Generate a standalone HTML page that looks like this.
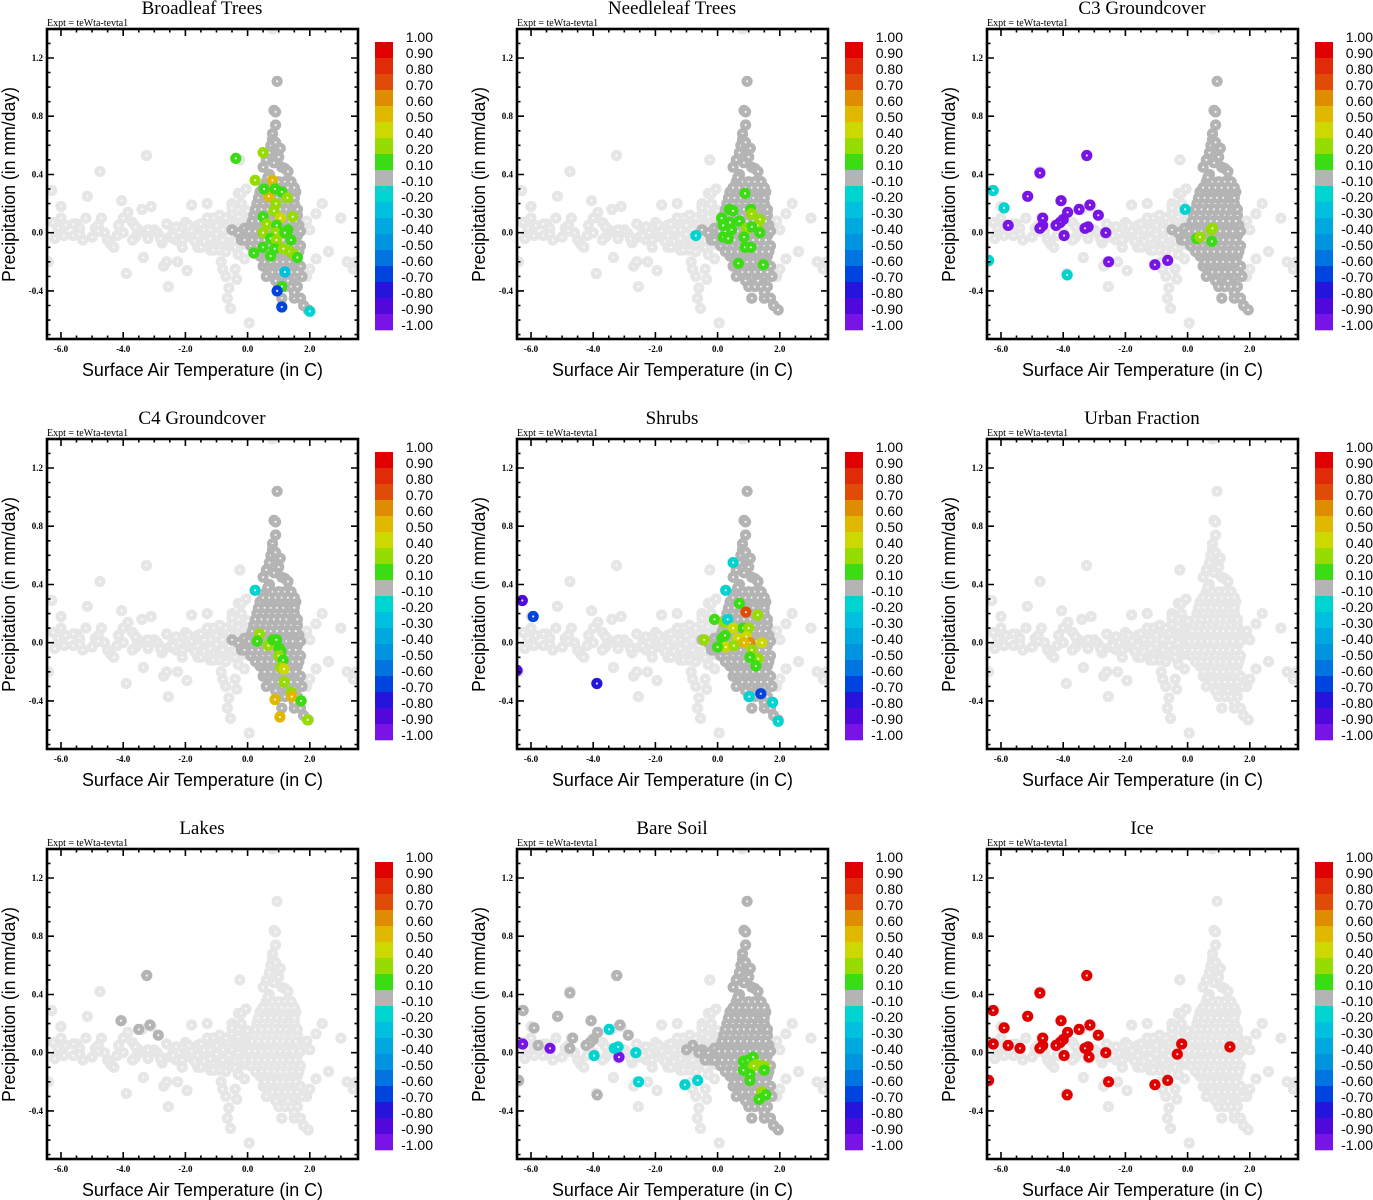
<!DOCTYPE html>
<html><head><meta charset="utf-8"><title>Land cover correlation scatter plots</title>
<style>
html,body{margin:0;padding:0;background:#fff;}
svg{display:block;}
.title{font-family:"Liberation Serif",serif;font-size:19px;text-anchor:middle;}
.expt{font-family:"Liberation Serif",serif;font-size:10px;}
.tick{font-family:"Liberation Serif",serif;font-size:9px;font-weight:bold;}
.axt{font-family:"Liberation Sans",sans-serif;font-size:18px;}
.cbl{font-family:"Liberation Sans",sans-serif;font-size:14px;text-anchor:end;}
</style></head>
<body>
<svg id="fig" width="1373" height="1200" viewBox="0 0 1373 1200" xmlns="http://www.w3.org/2000/svg"></svg>
<script>
// ---- data ----
const panelTitles = ["Broadleaf Trees","Needleleaf Trees","C3 Groundcover","C4 Groundcover","Shrubs","Urban Fraction","Lakes","Bare Soil","Ice"];
const coreDark = [true,true,true,true,true,false,false,true,false];
const xTicks = [-6,-4,-2,0,2];
const xTickLabels = ["-6.0","-4.0","-2.0","0.0","2.0"];
const yTicks = [-0.4,0,0.4,0.8,1.2];
const yTickLabels = ["-0.4","0.0","0.4","0.8","1.2"];
const cbEdges = [1.0,0.9,0.8,0.7,0.6,0.5,0.4,0.2,0.1,-0.1,-0.2,-0.3,-0.4,-0.5,-0.6,-0.7,-0.8,-0.9,-1.0];
const cbLabels = ["1.00","0.90","0.80","0.70","0.60","0.50","0.40","0.20","0.10","-0.10","-0.20","-0.30","-0.40","-0.50","-0.60","-0.70","-0.80","-0.90","-1.00"];
const cbColors = ["#e00000","#e02a08","#e04c08","#e08c00","#e0b800","#ccd800","#96dc00","#3cdc14","#b4b4b4","#00d4d0","#00c0e0","#00a8e0","#0094e0","#0074e0","#0044e0","#2414dc","#5008dc","#7814e6"];

const baseT = [-6.4,-6.3,-6.25,-6.2,-6.0,-6.0,-5.9,-5.85,-5.6,-5.5,-5.4,-5.3,-5.2,-5.15,-5.0,-4.9,-4.8,-4.75,-4.7,-4.6,-4.5,-4.4,-4.3,-4.15,-4.05,-4.0,-4.0,-3.9,-3.85,-3.7,-3.6,-3.5,-3.4,-3.35,-3.3,-3.25,-3.2,-3.1,-3.0,-2.9,-2.8,-2.75,-2.7,-2.6,-2.55,-2.5,-2.4,-2.3,-2.25,-2.2,-2.1,-2.0,-1.95,-1.9,-1.8,-1.75,-1.6,-1.5,-1.4,-1.3,-1.2,-1.1,-1.0,-0.9,-0.85,-0.8,-0.7,-0.65,-0.6,-0.55,-0.5,-0.4,-0.35,-0.3,-0.25,-0.2,-0.1,-0.05,0.05,0.8,-1.6,-1.3,-1.1,-0.9,-0.7,-0.6,-0.5,-0.4,-0.3,-0.2,-0.1,0.0,-0.7,-1.2,-0.9,-2.6,-3.7,-5.6,2.2,2.4,2.6,3.0,3.2,3.4,3.5,2.2,1.9,2.0,1.9,2.0,-1.0,-0.8,-0.6,-0.4,-0.2,-1.4,-1.7,-2.0,-2.4,-2.8,-3.2,-3.6,-4.2,-4.8,-5.4,-6.1,
-2.4,-2.2,-2.0,-1.8,-1.6,-1.4,-1.2,-1.0,-0.8,-0.6,-0.4,-0.2,-2.3,-2.1,-1.9,-1.7,-1.5,-1.3,-1.1,-0.9,-0.7,-0.5,-0.3,-0.1,-1.5,-1.3,-1.1,-0.9,-0.7,-0.5,-0.3,-1.4,-1.2,-1.0,-0.8,-0.6,-0.4,-0.2,-0.3,-0.1,-0.5,-0.7];
const baseP = [-0.2,0.29,0.07,-0.04,0.18,0.1,-0.02,0.05,-0.02,0.06,0.03,-0.05,0.1,0.25,-0.03,0.03,0.05,0.42,0.1,0.0,-0.05,-0.08,-0.1,0.05,0.22,0.1,0.0,-0.28,0.14,0.07,-0.03,0.02,0.16,-0.17,0.0,0.53,-0.04,0.18,0.02,0.0,-0.03,-0.07,-0.23,-0.2,-0.37,-0.03,0.02,-0.05,-0.2,0.0,-0.1,0.07,-0.26,0.03,0.19,-0.04,-0.1,0.0,0.05,0.2,-0.12,0.02,-0.03,0.0,-0.2,-0.25,-0.3,-0.45,-0.38,-0.52,0.2,-0.25,-0.32,0.27,0.5,0.27,0.1,0.3,-0.62,1.4,0.05,-0.05,0.1,0.08,0.05,-0.05,0.0,0.08,-0.1,0.05,-0.05,0.15,-0.1,0.03,-0.12,0.06,-0.05,0.06,0.13,0.2,-0.13,0.1,-0.2,-0.25,-0.2,-0.18,-0.3,-0.25,0.08,0.02,0.06,-0.08,0.1,-0.06,0.12,-0.06,0.0,-0.02,0.03,-0.04,0.02,0.04,-0.02,0.01,-0.01,0.03,
-0.02,0.0,-0.03,0.01,-0.02,0.0,0.02,-0.01,0.02,-0.02,0.0,0.01,0.04,-0.05,0.05,-0.06,0.06,0.07,-0.07,0.09,-0.08,0.1,0.11,-0.08,-0.1,0.1,-0.12,0.12,-0.13,0.13,0.16,0.02,-0.04,0.05,-0.05,0.07,-0.1,0.2,-0.15,-0.18,0.17,0.1];

const coreT = [0.95,0.85,0.9,0.9,0.8,0.8,0.75,0.95,0.7,1.0,0.85,0.6,1.1,1.2,1.3,0.5,
0.6,0.8,1.0,1.2,1.4,
0.4,0.6,0.8,1.0,1.2,1.4,1.55,
0.3,0.5,0.7,0.9,1.1,1.3,1.5,
0.2,0.4,0.6,0.8,1.0,1.2,1.4,1.6,
0.1,0.3,0.5,0.7,0.9,1.1,1.3,1.5,1.65,
0.0,0.2,0.4,0.6,0.8,1.0,1.2,1.4,1.6,
0.1,0.3,0.5,0.7,0.9,1.1,1.3,1.5,1.7,
0.4,0.6,0.8,1.0,1.2,1.4,1.6,
0.5,0.7,0.9,1.1,1.3,1.5,1.7,
0.6,0.9,1.1,1.3,1.5,1.75,
1.0,1.2,1.4,1.6,
1.1,1.5,1.7,1.8,1.95,-0.3,-0.1,-0.2,-0.5,
0.5,0.7,0.9,1.1,1.3,1.5,
0.35,0.55,0.75,0.95,1.15,1.35,1.5,
0.25,0.45,0.65,0.85,1.05,1.25,1.45,1.6,
0.15,0.35,0.55,0.75,0.95,1.15,1.35,1.55,
0.05,0.25,0.45,0.65,0.85,1.05,1.25,1.45,1.7,
-0.1,0.15,0.35,0.55,0.75,0.95,1.15,1.35,1.55,
0.25,0.45,0.65,0.85,1.05,1.25,1.45,1.65,
0.55,0.75,0.95,1.15,1.35,1.55,
0.8,1.0,1.2,1.4,1.6,
0.9,1.3,1.5,0.7,0.65,0.9,1.05];
const coreP = [1.04,0.84,0.83,0.74,0.68,0.64,0.6,0.56,0.55,0.52,0.48,0.5,0.45,0.44,0.42,0.45,
0.35,0.35,0.35,0.35,0.35,
0.28,0.28,0.28,0.28,0.28,0.28,0.28,
0.2,0.2,0.2,0.2,0.2,0.2,0.2,
0.12,0.12,0.12,0.12,0.12,0.12,0.12,0.12,
0.05,0.05,0.05,0.05,0.05,0.05,0.05,0.05,0.05,
-0.02,-0.02,-0.02,-0.02,-0.02,-0.02,-0.02,-0.02,-0.02,
-0.09,-0.09,-0.09,-0.09,-0.09,-0.09,-0.09,-0.09,-0.09,
-0.16,-0.16,-0.16,-0.16,-0.16,-0.16,-0.16,
-0.23,-0.23,-0.23,-0.23,-0.23,-0.23,-0.23,
-0.3,-0.3,-0.3,-0.3,-0.3,-0.3,
-0.37,-0.37,-0.37,-0.37,
-0.45,-0.45,-0.45,-0.5,-0.53,0.0,0.03,-0.05,0.02,
0.31,0.31,0.31,0.31,0.31,0.31,
0.24,0.24,0.24,0.24,0.24,0.24,0.24,
0.16,0.16,0.16,0.16,0.16,0.16,0.16,0.16,
0.08,0.08,0.08,0.08,0.08,0.08,0.08,0.08,
0.01,0.01,0.01,0.01,0.01,0.01,0.01,0.01,0.01,
-0.05,-0.05,-0.05,-0.05,-0.05,-0.05,-0.05,-0.05,-0.05,
-0.13,-0.13,-0.13,-0.13,-0.13,-0.13,-0.13,-0.13,
-0.2,-0.2,-0.2,-0.2,-0.2,-0.2,
-0.27,-0.27,-0.27,-0.27,-0.27,
-0.33,-0.33,-0.41,0.4,0.38,0.62,0.58];

// dark grey extras (value in -0.1..0.1) for specific panels
const lakesDarkT = [-4.07,-3.5,-3.14,-3.24,-2.87];
const lakesDarkP = [0.22,0.16,0.19,0.53,0.12];
const soilDarkT = [-3.24,-4.75,-6.25,-5.14,-5.9,-4.07,-3.14,-3.86,-2.87,-4.66,-4.0,-4.1,-4.75,-5.77,-4.23,-3.87,-6.4,-0.8,-0.6,-0.4,-1.0];
const soilDarkP = [0.53,0.41,0.29,0.25,0.17,0.22,0.19,0.14,0.12,0.1,0.09,0.07,0.03,0.05,0.05,-0.29,-0.19,0.05,0.0,-0.05,0.02];

const broadleafT = [-0.38,0.5,0.24,0.8,0.68,0.53,0.88,1.1,0.91,1.28,0.85,0.5,1.05,1.45,0.62,0.94,1.3,0.5,0.9,1.2,0.74,0.93,1.4,0.5,0.87,1.15,0.2,0.74,1.35,1.5,1.6,1.2,1.1,0.95,1.1,2.0];
const broadleafP = [0.51,0.55,0.36,0.36,0.25,0.3,0.3,0.28,0.2,0.24,0.15,0.11,0.1,0.11,0.06,0.05,0.02,0.0,0.0,0.0,-0.04,-0.05,-0.05,-0.1,-0.11,-0.11,-0.14,-0.16,-0.13,-0.15,-0.17,-0.27,-0.37,-0.4,-0.51,-0.54];
const broadleafV = [0.15,0.3,0.3,0.55,0.55,0.15,0.15,0.15,0.3,0.3,0.3,0.15,0.45,0.3,0.3,0.15,0.15,0.3,0.3,0.15,0.15,0.3,0.15,0.15,0.15,0.3,0.15,0.15,0.3,0.3,0.15,-0.25,0.15,-0.65,-0.65,-0.15];

const needleT = [0.88,0.38,0.5,1.07,1.09,0.13,0.4,0.7,1.36,0.18,0.94,1.28,0.45,1.1,1.36,0.18,0.34,0.85,0.88,1.07,0.67,1.47,-0.7];
const needleP = [0.27,0.16,0.15,0.16,0.13,0.1,0.07,0.08,0.09,0.05,0.03,0.05,0.02,0.04,0.0,-0.03,-0.04,-0.03,-0.1,-0.1,-0.21,-0.22,-0.02];
const needleV = [0.15,0.15,0.15,0.15,0.3,0.15,0.15,0.15,0.3,0.15,0.3,0.3,0.15,0.15,0.15,0.15,0.15,0.15,0.15,0.15,0.15,0.15,-0.15];

const c3T = [-3.24,-4.75,-5.14,-4.07,-3.49,-3.14,-3.86,-2.87,-4.66,-4.0,-4.1,-4.66,-4.75,-5.77,-4.23,-3.2,-3.3,-2.63,-3.97,-2.54,-1.05,-0.64,-6.25,-5.9,-6.4,-3.87,-0.08,0.29,0.4,0.75,0.8,0.78];
const c3P = [0.53,0.41,0.25,0.22,0.16,0.19,0.14,0.12,0.1,0.09,0.07,0.05,0.03,0.05,0.05,0.04,0.03,0.0,-0.02,-0.2,-0.22,-0.19,0.29,0.17,-0.19,-0.29,0.16,-0.04,-0.03,0.02,0.03,-0.06];
const c3V = [-0.95,-0.95,-0.95,-0.95,-0.95,-0.95,-0.95,-0.95,-0.95,-0.95,-0.95,-0.95,-0.95,-0.95,-0.95,-0.95,-0.95,-0.95,-0.95,-0.95,-0.95,-0.95,-0.15,-0.15,-0.15,-0.15,-0.15,0.15,0.3,0.3,0.3,0.15];

const c4T = [0.24,0.38,0.31,0.67,0.81,0.93,1.02,1.07,1.0,1.14,1.06,1.17,1.18,1.4,0.88,1.42,1.72,1.04,1.93];
const c4P = [0.36,0.06,0.01,-0.02,0.02,0.02,-0.04,-0.06,-0.09,-0.12,-0.17,-0.18,-0.27,-0.34,-0.39,-0.37,-0.4,-0.51,-0.53];
const c4V = [-0.15,0.3,0.15,0.3,0.15,0.15,0.15,0.15,0.3,0.15,0.3,0.45,0.3,0.3,0.55,0.55,0.15,0.55,0.3];

const shrubT = [0.5,0.26,0.7,0.91,1.29,-0.1,0.22,0.32,0.5,0.82,1.0,-0.43,0.14,0.66,0.93,1.04,1.42,0.85,0.26,0.0,0.52,1.1,1.31,1.23,1.04,0.24,1.39,1.02,1.77,1.95,-6.28,-5.93,-6.45,-3.88];
const shrubP = [0.55,0.36,0.27,0.21,0.19,0.16,0.14,0.16,0.1,0.1,0.1,0.02,0.03,0.03,0.04,0.0,0.0,0.0,-0.03,-0.03,-0.02,-0.05,-0.11,-0.16,-0.1,0.05,-0.35,-0.37,-0.41,-0.54,0.29,0.18,-0.19,-0.28];
const shrubV = [-0.15,-0.15,0.15,0.75,0.3,0.15,0.3,-0.15,0.45,0.15,0.3,0.3,0.15,0.45,0.45,0.65,0.45,0.55,0.45,0.15,0.3,0.3,0.3,0.15,0.15,0.15,-0.65,-0.15,-0.15,-0.15,-0.85,-0.65,-0.85,-0.75];

const urbanT = [];
const urbanP = [];
const urbanV = [];
const lakesT = [];
const lakesP = [];
const lakesV = [];

const soilT = [-6.27,-5.39,-3.17,-3.49,-3.32,-3.2,-3.97,-2.63,-2.54,-1.05,-0.64,0.83,0.99,1.14,1.25,1.5,1.16,1.5,0.83,1.04,1.04,1.42,1.55,1.33];
const soilP = [0.06,0.03,-0.03,0.16,0.03,0.04,-0.02,0.0,-0.2,-0.22,-0.19,-0.06,-0.05,-0.03,-0.08,-0.09,-0.09,-0.12,-0.12,-0.15,-0.19,-0.27,-0.29,-0.32];
const soilV = [-0.95,-0.95,-0.95,-0.15,-0.15,-0.15,-0.15,-0.15,-0.15,-0.15,-0.15,0.15,0.15,0.15,0.3,0.3,0.3,0.15,0.15,0.15,0.15,0.3,0.15,0.15];

const iceT = [-3.24,-4.75,-6.25,-5.14,-5.9,-4.07,-3.49,-3.14,-3.86,-2.87,-4.66,-4.0,-4.1,-4.66,-4.75,-6.25,-5.77,-5.39,-4.23,-3.2,-3.3,-3.17,-3.97,-2.63,-6.4,-2.54,-3.87,-1.05,-0.64,-0.33,-0.19,1.36];
const iceP = [0.53,0.41,0.29,0.25,0.17,0.22,0.16,0.19,0.14,0.12,0.1,0.09,0.07,0.05,0.03,0.06,0.05,0.03,0.05,0.04,0.03,-0.03,-0.02,0.0,-0.19,-0.2,-0.29,-0.22,-0.19,-0.01,0.06,0.04];
const iceV = [0.95,0.95,0.95,0.95,0.95,0.95,0.95,0.95,0.95,0.95,0.95,0.95,0.95,0.95,0.95,0.95,0.95,0.95,0.95,0.95,0.95,0.95,0.95,0.95,0.95,0.95,0.95,0.95,0.95,0.95,0.95,0.95];

const hiT = [broadleafT,needleT,c3T,c4T,shrubT,urbanT,lakesT,soilT,iceT];
const hiP = [broadleafP,needleP,c3P,c4P,shrubP,urbanP,lakesP,soilP,iceP];
const hiV = [broadleafV,needleV,c3V,c4V,shrubV,urbanV,lakesV,soilV,iceV];
const darkT = [[],[],[],[],[],[],lakesDarkT,soilDarkT,[]];
const darkP = [[],[],[],[],[],[],lakesDarkP,soilDarkP,[]];

// ---- drawing ----
const NS = "http://www.w3.org/2000/svg";
const svg = document.getElementById("fig");
const PX0 = 47, PX1 = 358, PY0 = 29, PY1 = 339;
function xS(t){ return 247.6 + t*31.1; }
function yS(p){ return 232.7 - p*145.6; }
function mk(tag, attrs, parent){
  const e = document.createElementNS(NS, tag);
  for (const k in attrs) e.setAttribute(k, attrs[k]);
  parent.appendChild(e);
  return e;
}
function colorFor(v){
  for (let i=0;i<cbColors.length;i++){ if (v<=cbEdges[i] && v>cbEdges[i+1]) return cbColors[i]; }
  return cbColors[cbColors.length-1];
}
function dot(g, t, p, col, name){
  const c = mk("circle",{cx:xS(t).toFixed(1),cy:yS(p).toFixed(1),r:5.6,fill:col},g);
  
  
  const h = mk("circle",{cx:xS(t).toFixed(1),cy:yS(p).toFixed(1),r:1.1,fill:"#ffffff","fill-opacity":0.85},g);
  
  
}

for (let k=0;k<9;k++){
  const col = k%3, row = Math.floor(k/3);
  const g = mk("g",{transform:`translate(${col*470},${row*410})`},svg);
  
  

  const ti = mk("text",{x:202,y:14,class:"title"},g); ti.textContent = panelTitles[k];
  
  
  const ex = mk("text",{x:47,y:26,class:"expt"},g); ex.textContent = "Expt = teWta-tevta1";
  
  

  const cp = mk("clipPath",{id:"clip"+k},g);
  
  
  const cr = mk("rect",{x:PX0,y:PY0,width:PX1-PX0,height:PY1-PY0},cp);
  
  

  const pts = mk("g",{"clip-path":`url(#clip${k})`},g);
  
  
  for (let i=0;i<baseT.length;i++) dot(pts, baseT[i], baseP[i], "#e6e6e6", "point-background");
  const coreCol = coreDark[k] ? "#b4b4b4" : "#e6e6e6";
  for (let i=0;i<coreT.length;i++) dot(pts, coreT[i], coreP[i], coreCol, "point-core");
  for (let i=0;i<darkT[k].length;i++) dot(pts, darkT[k][i], darkP[k][i], "#b4b4b4", "point-neutral");
  for (let i=0;i<hiT[k].length;i++) dot(pts, hiT[k][i], hiP[k][i], colorFor(hiV[k][i]), "point-correlated");

  const fr = mk("rect",{x:PX0,y:PY0,width:PX1-PX0,height:PY1-PY0,fill:"none",stroke:"#000","stroke-width":2.6},g);
  
  

  let d = "";
  for (let t=-6.5;t<=3.45;t+=0.5){
    const x = xS(t); if (x<PX0+1||x>PX1-1) continue;
    const L = (Math.abs(t-Math.round(t/2)*2)<1e-6)?7:3.5;
    d += `M${x.toFixed(1)} ${PY1}v${-L}M${x.toFixed(1)} ${PY0}v${L}`;
  }
  for (let p=-0.7;p<=1.41;p+=0.1){
    const pr = Math.round(p*10)/10;
    const y = yS(pr); if (y<PY0+1||y>PY1-1) continue;
    const L = (Math.abs(pr*10 % 4)<1e-6)?7:3.5;
    d += `M${PX0} ${y.toFixed(1)}h${L}M${PX1} ${y.toFixed(1)}h${-L}`;
  }
  const tk = mk("path",{d:d,stroke:"#000","stroke-width":1.6,fill:"none"},g);
  
  

  for (let i=0;i<xTicks.length;i++){
    const t = mk("text",{x:xS(xTicks[i]),y:352,class:"tick","text-anchor":"middle"},g);
    t.textContent = xTickLabels[i];
    
    
  }
  for (let i=0;i<yTicks.length;i++){
    const t = mk("text",{x:43,y:yS(yTicks[i])+3,class:"tick","text-anchor":"end"},g);
    t.textContent = yTickLabels[i];
    
    
  }
  const xt = mk("text",{x:82,y:376,class:"axt",textLength:241,lengthAdjust:"spacingAndGlyphs"},g);
  xt.textContent = "Surface Air Temperature (in C)";
  
  
  const yt = mk("text",{x:0,y:0,class:"axt",transform:"translate(15,282) rotate(-90)",textLength:195,lengthAdjust:"spacingAndGlyphs"},g);
  yt.textContent = "Precipitation (in mm/day)";
  
  

  for (let i=0;i<cbColors.length;i++){
    const r = mk("rect",{x:375,y:42+i*16,width:18,height:16.3,fill:cbColors[i]},g);
    
    
  }
  for (let i=0;i<cbLabels.length;i++){
    const t = mk("text",{x:433,y:42+i*16,class:"cbl"},g);
    t.textContent = cbLabels[i];
    
    
  }
}
</script>
</body></html>
